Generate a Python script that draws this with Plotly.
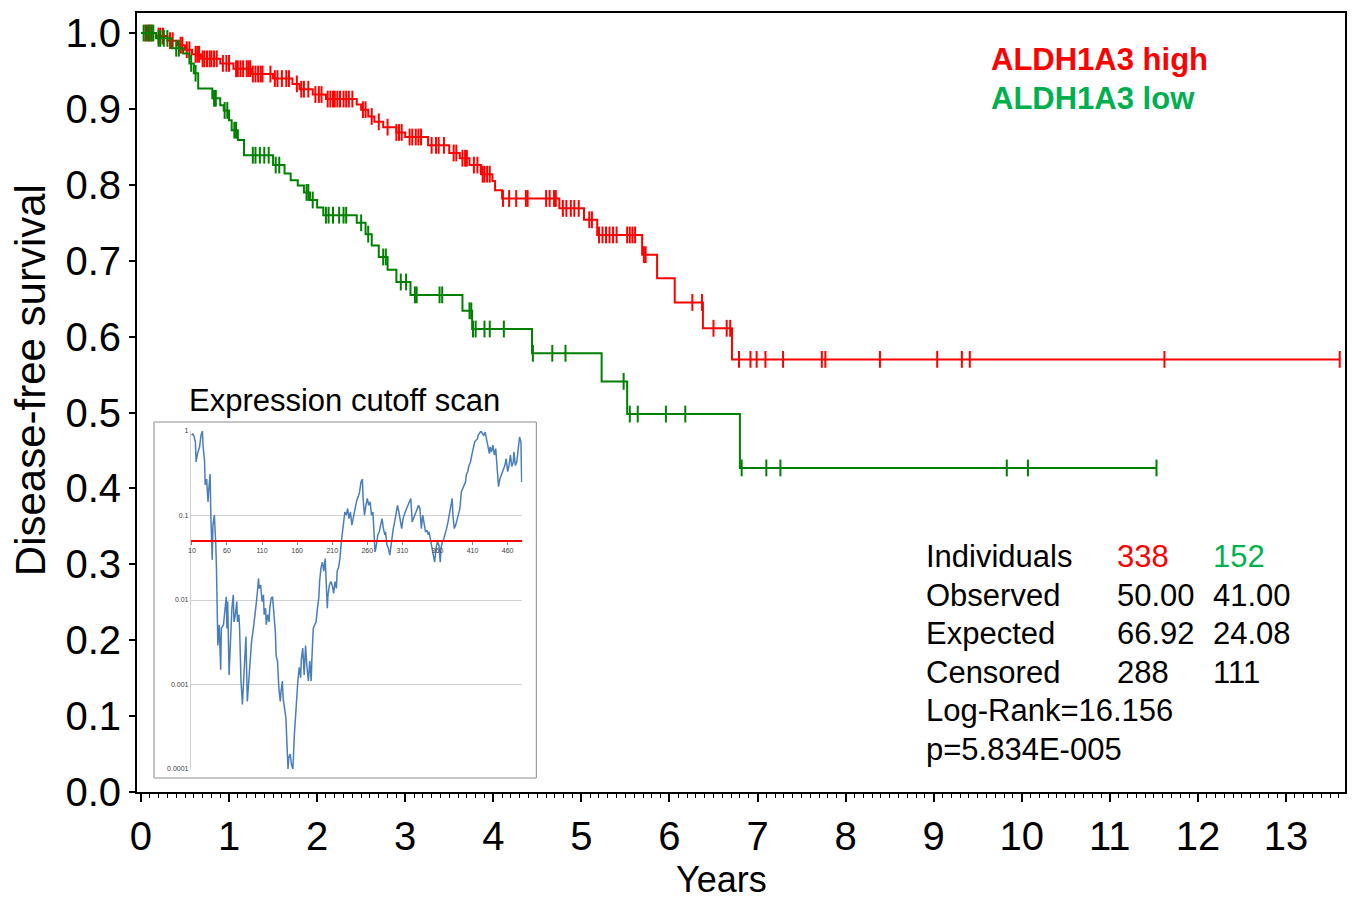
import numpy as np
import plotly.graph_objects as go

# ---------------- Kaplan-Meier data ----------------
# ALDH1A3 high
high_event_t = [0.17, 0.30, 0.42, 0.50, 0.58, 0.68, 0.90, 1.05, 1.25, 1.50, 1.72, 1.80, 1.95, 2.10,
                2.45, 2.50, 2.58, 2.65, 2.75, 2.90, 3.00, 3.26, 3.50, 3.62, 3.73, 3.86, 3.99, 4.02,
                4.10, 4.75, 5.03, 5.18, 5.69, 5.86, 6.06, 6.38, 6.71]
high_surv = [0.996, 0.990, 0.984, 0.978, 0.972, 0.966, 0.960, 0.953, 0.946, 0.940, 0.933, 0.926, 0.919,
             0.913, 0.906, 0.899, 0.890, 0.883, 0.876, 0.869, 0.863, 0.852, 0.842, 0.835, 0.826, 0.814,
             0.805, 0.793, 0.782, 0.769, 0.754, 0.734, 0.708, 0.677, 0.645, 0.611, 0.570]
high_cens_t = [0.05, 0.08, 0.10, 0.12, 0.20, 0.22, 0.25, 0.33, 0.36, 0.45, 0.47, 0.52, 0.55, 0.62, 0.64,
               0.66, 0.70, 0.72, 0.75, 0.78, 0.80, 0.83, 0.86, 0.93, 0.97, 1.00, 1.08, 1.10, 1.13, 1.16,
               1.20, 1.22, 1.24, 1.27, 1.30, 1.33, 1.36, 1.38, 1.47, 1.52, 1.55, 1.60, 1.65, 1.68, 1.77,
               1.82, 1.85, 1.90, 1.98, 2.02, 2.05, 2.12, 2.15, 2.18, 2.20, 2.23, 2.26, 2.30, 2.33, 2.36,
               2.40, 2.52, 2.55, 2.62, 2.70, 2.80, 2.90, 2.93, 2.96, 3.05, 3.08, 3.12, 3.15, 3.18, 3.30,
               3.35, 3.38, 3.44, 3.55, 3.58, 3.65, 3.68, 3.70, 3.78, 3.82, 3.88, 3.90, 3.93, 3.96,
               4.11, 4.18, 4.26, 4.37, 4.39, 4.60, 4.64, 4.69, 4.71, 4.79, 4.83, 4.88, 4.92, 4.97,
               5.09, 5.12, 5.20, 5.24, 5.28, 5.32, 5.36, 5.40, 5.52, 5.55, 5.58, 5.61, 5.71, 5.73,
               6.26, 6.37, 6.50, 6.65, 6.69, 6.79, 6.92, 6.99, 7.09, 7.29, 7.73, 7.77, 8.39, 9.04,
               9.32, 9.41, 11.62, 13.61]

# ALDH1A3 low
low_event_t = [0.17, 0.35, 0.48, 0.55, 0.60, 0.65, 0.81, 0.90, 0.94, 1.00, 1.03, 1.10, 1.17, 1.50,
               1.63, 1.70, 1.78, 1.85, 1.92, 2.00, 2.07, 2.45, 2.55, 2.62, 2.70, 2.80, 2.90, 3.06,
               3.65, 3.76, 4.44, 5.23, 5.52, 6.80]
low_surv = [0.993, 0.980, 0.973, 0.960, 0.947, 0.927, 0.914, 0.905, 0.898, 0.885, 0.872, 0.859, 0.839,
            0.826, 0.815, 0.806, 0.799, 0.790, 0.780, 0.770, 0.760, 0.750, 0.735, 0.720, 0.705, 0.688,
            0.672, 0.655, 0.634, 0.610, 0.578, 0.541, 0.498, 0.427]
low_cens_t = [0.03, 0.06, 0.09, 0.12, 0.14, 0.20, 0.22, 0.26, 0.30, 0.40, 0.43, 0.57, 0.62, 0.83, 0.85,
              0.95, 0.98, 1.06, 1.08, 1.27, 1.30, 1.35, 1.40, 1.45, 1.53, 1.57, 1.88, 1.90, 1.95, 2.10,
              2.13, 2.18, 2.25, 2.30, 2.33, 2.50, 2.58, 2.75, 2.78, 2.95, 3.01, 3.11, 3.13, 3.39, 3.42,
              3.73, 3.75, 3.77, 3.80, 3.90, 3.96, 4.12, 4.45, 4.67, 4.82, 5.48, 5.55, 5.64, 5.96, 6.18,
              6.82, 7.10, 7.26, 9.83, 10.07, 11.53]

# ---------------- Inset: expression cutoff scan ----------------
cutoffs = [10, 11, 13, 15, 16, 18, 21, 23, 25, 26, 28, 29, 31, 33, 34, 36, 37, 39, 40, 42, 44, 45, 47, 49,
           51, 52, 55, 57, 59, 60, 61, 63, 65, 67, 69, 70, 72, 74, 75, 77, 78, 80, 82, 84, 86, 87, 89, 91,
           93, 95, 97, 99, 101, 103, 105, 106, 108, 110, 112, 113, 115, 116, 118, 120, 121, 123, 125, 127,
           129, 130, 132, 134, 136, 137, 139, 140, 142, 144, 145, 147, 148, 150, 152, 154, 156, 158, 159,
           161, 163, 165, 166, 168, 170, 172, 174, 176, 178, 180, 181, 183, 185, 187, 189, 191, 192, 194,
           196, 198, 200, 201, 203, 204, 206, 208, 210, 212, 214, 216, 217, 219, 221, 223, 225, 226, 228,
           230, 232, 234, 236, 238, 240, 242, 243, 245, 247, 249, 251, 253, 254, 256, 258, 260, 262, 264,
           266, 268, 269, 271, 273, 275, 277, 279, 281, 283, 285, 286, 288, 290, 292, 294, 295, 297, 299,
           301, 303, 305, 307, 309, 311, 312, 314, 316, 318, 320, 322, 324, 326, 328, 330, 331, 333, 335,
           337, 339, 341, 343, 345, 347, 348, 350, 352, 354, 356, 358, 360, 362, 364, 365, 367, 369, 371,
           373, 375, 377, 379, 381, 382, 384, 386, 388, 390, 392, 394, 396, 398, 400, 401, 403, 405, 407,
           409, 411, 413, 415, 417, 418, 420, 422, 424, 426, 428, 430, 432, 434, 435, 437, 439, 441, 443,
           445, 447, 449, 451, 452, 454, 456, 458, 460, 462, 464, 466, 468, 469, 471, 473, 475, 477, 479,
           480]
pvalues = [0.89, 0.93, 0.87, 0.74, 0.43, 0.54, 0.65, 0.89, 1.0, 0.65, 0.45, 0.23, 0.27, 0.145, 0.20, 0.31,
           0.101, 0.030, 0.077, 0.101, 0.047, 0.024, 0.0029, 0.0051, 0.0015, 0.0046, 0.0051, 0.0073, 0.0109,
           0.0046, 0.0096, 0.0013, 0.0042, 0.0080, 0.0115, 0.0055, 0.0067, 0.0096, 0.0055, 0.0067, 0.0046,
           0.0011, 0.00058, 0.0012, 0.0027, 0.0037, 0.00063, 0.0012, 0.0019, 0.0032, 0.0042, 0.0055, 0.0080,
           0.0115, 0.018, 0.0137, 0.0150, 0.0096, 0.0115, 0.0067, 0.0080, 0.0051, 0.0067, 0.0055, 0.0080,
           0.0105, 0.0109, 0.0067, 0.0042, 0.0022, 0.0019, 0.00090, 0.00063, 0.00083, 0.0011, 0.00069,
           0.00053, 0.00040, 0.00025, 0.0001, 0.000135, 0.00015, 0.000112, 0.0001, 0.00025, 0.00044,
           0.00076, 0.0011, 0.0016, 0.0012, 0.0020, 0.0027, 0.0013, 0.0029, 0.0016, 0.0011, 0.0019, 0.0011,
           0.0020, 0.0046, 0.0051, 0.0055, 0.0080, 0.0109, 0.0165, 0.024, 0.028, 0.022, 0.031, 0.018,
           0.0080, 0.0115, 0.0150, 0.0165, 0.0150, 0.0120, 0.0165, 0.0137, 0.022, 0.024, 0.031, 0.049,
           0.070, 0.077, 0.110, 0.101, 0.121, 0.092, 0.110, 0.077, 0.092, 0.110, 0.132, 0.152, 0.166, 0.19,
           0.25, 0.27, 0.159, 0.101, 0.132, 0.159, 0.132, 0.145, 0.101, 0.110, 0.077, 0.037, 0.045, 0.059,
           0.064, 0.077, 0.092, 0.070, 0.059, 0.064, 0.045, 0.041, 0.034, 0.045, 0.053, 0.070, 0.084, 0.101,
           0.132, 0.110, 0.084, 0.070, 0.092, 0.101, 0.110, 0.121, 0.132, 0.145, 0.159, 0.084, 0.092, 0.101,
           0.110, 0.121, 0.132, 0.121, 0.070, 0.101, 0.077, 0.064, 0.067, 0.059, 0.064, 0.053, 0.045, 0.037,
           0.028, 0.041, 0.049, 0.045, 0.028, 0.041, 0.049, 0.053, 0.064, 0.070, 0.084, 0.101, 0.132, 0.159,
           0.101, 0.070, 0.077, 0.092, 0.101, 0.121, 0.19, 0.21, 0.23, 0.25, 0.30, 0.33, 0.39, 0.43, 0.52,
           0.62, 0.74, 0.78, 0.81, 0.89, 0.93, 1.0, 0.93, 0.89, 0.97, 0.81, 0.68, 0.54, 0.65, 0.565, 0.68,
           0.52, 0.62, 0.39, 0.22, 0.27, 0.30, 0.33, 0.36, 0.39, 0.47, 0.33, 0.39, 0.52, 0.38, 0.43, 0.565,
           0.39, 0.43, 0.62, 0.85, 0.74, 0.25]
p_threshold = 0.05
inset_xticks = [10, 60, 110, 160, 210, 260, 310, 360, 410, 460]
inset_yticks = [1, 0.1, 0.01, 0.001, 0.0001]
inset_yticklabels = ["1", "0.1", "0.01", "0.001", "0.0001"]

# ---------------- Statistics table ----------------
stats_rows = ["Individuals", "Observed", "Expected", "Censored"]
stats_high = ["338", "50.00", "66.92", "288"]
stats_low = ["152", "41.00", "24.08", "111"]
stats_extra = ["Log-Rank=16.156", "p=5.834E-005"]
group_names = ["ALDH1A3 high", "ALDH1A3 low"]

RED = "#FF0000"
GREEN_LINE = "#008000"
GREEN_TEXT = "#00B050"
FONT = "Liberation Sans, Arial, sans-serif"

# ---------------- Geometry (pixels) ----------------
W, H = 1353, 901
PL, PR, PT, PB = 137, 1347, 13, 792


def px_x(px):
    return (px - PL) / (PR - PL)


def px_y(py):
    return (PB - py) / (PB - PT)


def km_path(ev_t, surv, end_t):
    x = [0.0] + list(ev_t) + [end_t]
    y = [1.0] + list(surv) + [surv[-1]]
    return x, y


def cens_levels(ev_t, surv, cens):
    idx = np.searchsorted(np.array(ev_t), np.array(cens), side="right")
    s = np.concatenate([[1.0], np.array(surv)])
    return s[idx]


fig = go.Figure()

for ev, sv, cs, col in [(high_event_t, high_surv, high_cens_t, RED),
                        (low_event_t, low_surv, low_cens_t, GREEN_LINE)]:
    x, y = km_path(ev, sv, max(cs))
    fig.add_trace(go.Scatter(x=x, y=y, mode="lines", line=dict(color=col, width=2, shape="hv"),
                             showlegend=False, hoverinfo="skip"))
    fig.add_trace(go.Scatter(x=cs, y=cens_levels(ev, sv, cs), mode="markers",
                             marker=dict(symbol="line-ns", size=12, line=dict(color=col, width=2)),
                             showlegend=False, hoverinfo="skip"))

# inset traces
fig.add_trace(go.Scatter(x=cutoffs, y=pvalues, mode="lines", line=dict(color="#4A7EBB", width=1.5),
                         xaxis="x2", yaxis="y2", showlegend=False, hoverinfo="skip"))
fig.add_trace(go.Scatter(x=[cutoffs[0] - 1.4, cutoffs[-1] + 1], y=[p_threshold, p_threshold], mode="lines",
                         line=dict(color=RED, width=2), xaxis="x3", yaxis="y2",
                         showlegend=False, hoverinfo="skip"))

ix0, ix1 = px_x(191), px_x(523)
iy0, iy1 = px_y(769), px_y(431)
inset_xrange = [8.6, 481]
thr_pos = iy0 + (np.log10(p_threshold) + 4) / 4 * (iy1 - iy0)

fig.update_layout(
    width=W, height=H, autosize=False,
    margin=dict(l=PL, r=W - PR, t=PT, b=H - PB, pad=0),
    paper_bgcolor="white", plot_bgcolor="white",
    font=dict(family=FONT, color="black"),
    xaxis=dict(range=[-0.045, 13.67], dtick=1, tick0=0, ticks="outside", ticklen=8, tickwidth=1.5,
               tickcolor="black", showline=True, linecolor="black", linewidth=2, mirror=True,
               showgrid=False, zeroline=False, tickfont=dict(size=40, family=FONT),
               minor=dict(dtick=0.1, ticks="outside", ticklen=4, tickwidth=1, tickcolor="black",
                          showgrid=False)),
    yaxis=dict(range=[0, 1.0264], dtick=0.1, tick0=0, tickformat=".1f", ticks="outside", ticklen=6,
               tickwidth=1.5, tickcolor="black", showline=True, linecolor="black", linewidth=2,
               mirror=True, showgrid=False, zeroline=False, tickfont=dict(size=40, family=FONT)),
    xaxis2=dict(domain=[ix0, ix1], anchor="y2", range=inset_xrange, showticklabels=False,
                showgrid=False, showline=False, zeroline=False, ticks=""),
    yaxis2=dict(domain=[iy0, iy1], anchor="x2", type="log", range=[-4, 0], tickvals=inset_yticks,
                ticktext=inset_yticklabels, tickfont=dict(size=7, color="#404040", family=FONT),
                showgrid=True, gridcolor="#D0D0D0", gridwidth=1, showline=True, linecolor="#D0D0D0",
                linewidth=1, zeroline=False, ticks=""),
    xaxis3=dict(overlaying="x2", anchor="free", position=thr_pos, range=inset_xrange,
                tickvals=inset_xticks, tickfont=dict(size=7, color="#404040", family=FONT),
                ticks="outside", ticklen=3, tickcolor="#808080", showgrid=False, showline=False,
                zeroline=False),
)

# inset frame
fig.add_shape(type="rect", xref="paper", yref="paper", x0=px_x(154), x1=px_x(537), y0=px_y(778),
              y1=px_y(422), line=dict(color="#8C8C8C", width=1), fillcolor="white", layer="below")

ann = []
ann.append(dict(text="Expression cutoff scan", x=px_x(187), y=px_y(400), xanchor="left", yanchor="middle",
                font=dict(size=31, family=FONT, color="black")))
ann.append(dict(text="Years", x=px_x(722), y=px_y(880), xanchor="center", yanchor="middle",
                font=dict(size=36, family=FONT, color="black")))
ann.append(dict(text="Disease-free survival", x=px_x(30), y=px_y(380), xanchor="center", yanchor="middle",
                textangle=-90, font=dict(size=42, family=FONT, color="black")))
for name, col, py in zip(group_names, [RED, GREEN_TEXT], [60, 98]):
    ann.append(dict(text="<b>%s</b>" % name, x=px_x(990), y=px_y(py), xanchor="left", yanchor="middle",
                    font=dict(size=31, family=FONT, color=col)))
row_y = [556, 595, 633, 672, 710, 749]
for i, (lab, hv, lv) in enumerate(zip(stats_rows, stats_high, stats_low)):
    ann.append(dict(text=lab, x=px_x(925), y=px_y(row_y[i]), xanchor="left", yanchor="middle",
                    font=dict(size=31, family=FONT, color="black")))
    ann.append(dict(text=hv, x=px_x(1117), y=px_y(row_y[i]), xanchor="left", yanchor="middle",
                    font=dict(size=31, family=FONT, color=RED if i == 0 else "black")))
    ann.append(dict(text=lv, x=px_x(1213), y=px_y(row_y[i]), xanchor="left", yanchor="middle",
                    font=dict(size=31, family=FONT, color=GREEN_TEXT if i == 0 else "black")))
for j, t in enumerate(stats_extra):
    ann.append(dict(text=t, x=px_x(925), y=px_y(row_y[4 + j]), xanchor="left", yanchor="middle",
                    font=dict(size=31, family=FONT, color="black")))
for a in ann:
    a.update(xref="paper", yref="paper", showarrow=False)
fig.update_layout(annotations=ann)

fig.write_html("out.html")
